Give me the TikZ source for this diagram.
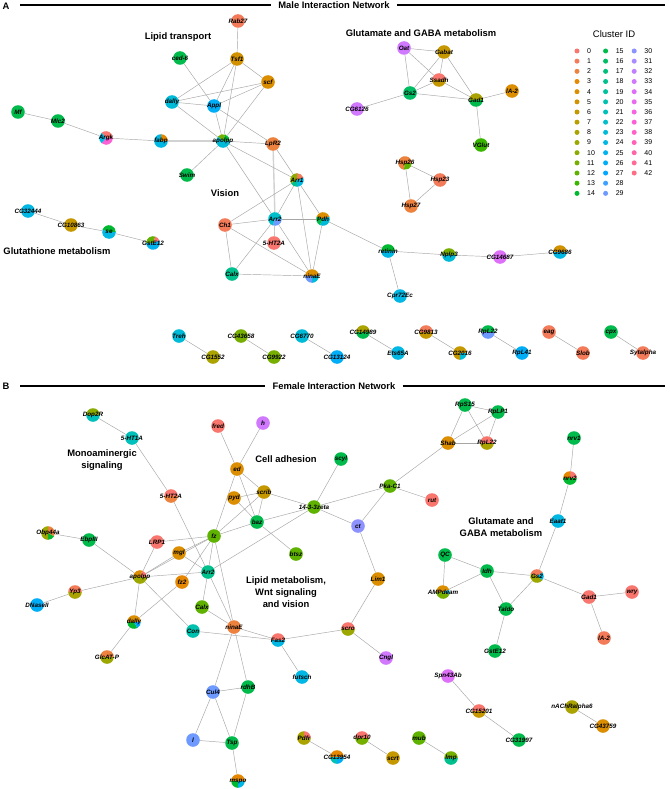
\documentclass[tikz,border=0pt]{standalone}
\usepackage{fontspec}
\setmainfont{Liberation Sans}
\pgfdeclarelayer{back}
\pgfdeclarelayer{bg}
\pgfsetlayers{back,bg,main}
\definecolor{c0}{HTML}{F8766D}\definecolor{c1}{HTML}{F37B59}\definecolor{c2}{HTML}{ED813E}
\definecolor{c3}{HTML}{E58700}\definecolor{c4}{HTML}{DB8E00}\definecolor{c5}{HTML}{D29200}
\definecolor{c6}{HTML}{C69800}\definecolor{c7}{HTML}{B99E00}\definecolor{c8}{HTML}{ABA300}
\definecolor{c9}{HTML}{9CA700}\definecolor{c10}{HTML}{8BAB00}\definecolor{c11}{HTML}{77AF00}
\definecolor{c12}{HTML}{5FB300}\definecolor{c13}{HTML}{3AB600}\definecolor{c14}{HTML}{00B930}
\definecolor{c15}{HTML}{00BB4C}\definecolor{c16}{HTML}{00BD64}\definecolor{c17}{HTML}{00BF7A}
\definecolor{c18}{HTML}{00C08D}\definecolor{c19}{HTML}{00C19D}\definecolor{c20}{HTML}{00C1AD}
\definecolor{c21}{HTML}{00C0BB}\definecolor{c22}{HTML}{00BECA}\definecolor{c23}{HTML}{00BBD8}
\definecolor{c24}{HTML}{00B8E3}\definecolor{c25}{HTML}{00B3EE}\definecolor{c26}{HTML}{00AEF8}
\definecolor{c27}{HTML}{00A8FF}\definecolor{c28}{HTML}{40A0FF}\definecolor{c29}{HTML}{6E99FF}
\definecolor{c30}{HTML}{8E92FF}\definecolor{c31}{HTML}{A98AFF}\definecolor{c32}{HTML}{BE80FF}
\definecolor{c33}{HTML}{D078FE}\definecolor{c34}{HTML}{DE6FF8}\definecolor{c35}{HTML}{EB68F0}
\definecolor{c36}{HTML}{F564E3}\definecolor{c37}{HTML}{FB61D5}\definecolor{c38}{HTML}{FF61C6}
\definecolor{c39}{HTML}{FF62B7}\definecolor{c40}{HTML}{FF65A7}\definecolor{c41}{HTML}{FF6A97}
\definecolor{c42}{HTML}{FD6F86}
\tikzset{
 gn/.style={circle, minimum size=13.6pt, inner sep=0pt},
 lbl/.style={inner sep=0pt, font=\fontsize{6.3}{6.3}\selectfont\bfseries\itshape},
 ttl/.style={font=\fontsize{9.4}{11.7}\selectfont\bfseries, align=center, inner sep=0pt},
 hdr/.style={font=\fontsize{9.4}{11}\selectfont\bfseries, inner sep=0pt},
 lnk/.style={draw=gray!70, line width=0.45pt},
 lnkt/.style={draw=gray!35, line width=1.4pt},
 rule/.style={draw=black, line width=1.1pt},
 lgdot/.style={circle, minimum size=5pt, inner sep=0pt},
 lgtxt/.style={anchor=west, inner sep=0pt, font=\fontsize{7}{7}\selectfont},
}
\def\nr{6.8}
\newcommand{\nd}[4]{\node[gn, fill=#4, label={[lbl]center:#3}] (#1) at (#2) {};}
\newcommand{\pn}[4]{\foreach \cc/\aa/\bb in {#4}{\fill[\cc] (#2) -- ++(\aa:\nr) arc[start angle=\aa, end angle=\bb, radius=\nr] -- cycle;}\node[gn, label={[lbl]center:#3}] (#1) at (#2) {};}
\begin{document}
\begin{tikzpicture}[x=1pt,y=-1pt]
\useasboundingbox (0,0) rectangle (669,789);
\begin{pgfonlayer}{back}
\fill[white] (0,0) rectangle (669,789);
\end{pgfonlayer}
% ---------------- headers
\node[hdr] (lA) at (6,6) {A};
\node[hdr] (hA) at (334,5) {Male Interaction Network};
\coordinate (hAl) at (20,5);\coordinate (hAr) at (665,5);
\draw[rule] (hAl) -- ([xshift=-7pt]hA.west);
\draw[rule] ([xshift=7pt]hA.east) -- (hAr);
\node[hdr] (lB) at (6,386) {B};
\node[hdr] (hB) at (334,386) {Female Interaction Network};
\coordinate (hBl) at (20,386);\coordinate (hBr) at (665,386);
\draw[rule] (hBl) -- ([xshift=-7pt]hB.west);
\draw[rule] ([xshift=7pt]hB.east) -- (hBr);
% ---------------- legend
\node[font=\fontsize{9.5}{10}\selectfont, inner sep=0pt] (lgT) at (614,34) {Cluster ID};
\foreach \i in {0,...,42}{
  \pgfmathtruncatemacro{\col}{floor(\i/15)}
  \pgfmathtruncatemacro{\row}{\i-15*\col}
  \node[lgdot, fill=c\i] (lg\i) at ({577+28.6*\col},{51+10.17*\row}) {};
  \node[lgtxt] (lgt\i) at ({587+28.6*\col},{51+10.17*\row}) {\i};
}
% ---------------- titles
\node[ttl] (tA1) at (178,37) {Lipid transport};
\node[ttl] (tA2) at (225,193) {Vision};
\node[ttl] (tA3) at (57,251) {Glutathione metabolism};
\node[ttl] (tA4) at (421,33) {Glutamate and GABA metabolism};
\node[ttl] (tB1) at (102,460) {Monoaminergic\\signaling};
\node[ttl] (tB2) at (286,459) {Cell adhesion};
\node[ttl] (tB3) at (286,592) {Lipid metabolism,\\Wnt signaling\\and vision};
\node[ttl] (tB4) at (501,527) {Glutamate and\\GABA metabolism};
% ---------------- panel A nodes
\nd{aMf}{18,112}{Mf}{c15}
\nd{aMlc}{58,121}{Mlc2}{c15}
\pn{aArgk}{106,138}{Argk}{c0/230/360, c37/0/130, c24/130/230}
\pn{aFabp}{161,141}{fabp}{c3/270/360, c24/0/270}
\nd{aCed}{180,58}{ced-6}{c15}
\nd{aDally}{172,102}{dally}{c23}
\nd{aAppl}{214,106}{Appl}{c26}
\pn{aApo}{223,141}{apolpp}{c11/220/290, c14/290/360, c23/0/220}
\nd{aSwim}{187,175}{Swim}{c15}
\nd{aRab}{238,21}{Rab27}{c1}
\nd{aTsf}{237,59}{Tsf1}{c5}
\nd{aScf}{268,82}{scf}{c4}
\nd{aLpR}{273,144}{LpR2}{c2}
\pn{aArra}{297,180}{Arr1}{c10/150/270, c1/270/340, c24/340/450, c18/90/150}
\pn{aArrb}{275,219}{Arr2}{c29/0/110, c22/110/360}
\nd{aCh}{225,225}{Ch1}{c1}
\nd{aHT}{274,243}{5-HT2A}{c0}
\pn{aPdh}{323,219}{Pdh}{c4/200/340, c23/340/480, c15/120/200}
\nd{aCalx}{232,274}{Calx}{c18}
\pn{aNina}{312,276}{ninaE}{c4/180/360, c23/0/90, c29/90/180}
\nd{aCGa}{28,211}{CG32444}{c24}
\nd{aCGb}{71,225}{CG10863}{c6}
\pn{aSe}{109,232}{se}{c14/200/360, c24/0/200}
\pn{aGst}{153,243}{GstE12}{c12/180/290, c0/290/340, c25/340/540}
\nd{aOat}{404,48}{Oat}{c33}
\nd{aGabat}{444,52}{Gabat}{c6}
\pn{aSsadh}{439,80}{Ssadh}{c0/180/360, c6/0/180}
\nd{aGs}{410,93}{Gs2}{c16}
\pn{aGad}{476,100}{Gad1}{c8/180/360, c15/0/180}
\nd{aIA}{512,91}{lA-2}{c4}
\nd{aCG6126}{357,109}{CG6126}{c33}
\nd{aVGlut}{481,145}{VGlut}{c13}
\pn{aHspa}{405,163}{Hsp26}{c2/100/360, c12/0/100}
\nd{aHspb}{440,180}{Hsp23}{c1}
\nd{aHspc}{411,206}{Hsp27}{c2}
\pn{aRet}{388,251}{retinin}{c14/180/360, c24/0/180}
\pn{aNplp}{449,255}{Nplp3}{c11/180/360, c23/0/180}
\nd{aCG14687}{500,257}{CG14687}{c34}
\pn{aCG9686}{560,252}{CG9686}{c5/180/360, c24/0/180}
\nd{aCpr}{400,296}{Cpr72Ec}{c24}
\nd{aTreh}{179,336}{Treh}{c23}
\nd{aCG1552}{213,357}{CG1552}{c8}
\nd{aCG43658}{241,336}{CG43658}{c11}
\nd{aCG9922}{274,357}{CG9922}{c11}
\nd{aCG6770}{302,336}{CG6770}{c23}
\nd{aCG13124}{337,357}{CG13124}{c26}
\pn{aCG14989}{363,332}{CG14989}{c8/180/360, c15/0/180}
\nd{aEts}{398,353}{Ets65A}{c24}
\pn{aCG9813}{426,332}{CG9813}{c1/180/360, c6/0/180}
\pn{aCG2016}{460,353}{CG2016}{c6/90/360, c23/0/90}
\pn{aRpL22}{488,332}{RpL22}{c15/180/360, c29/0/180}
\nd{aRpL41}{522,353}{RpL41}{c26}
\nd{aEag}{549,332}{eag}{c1}
\nd{aSlob}{583,353}{Slob}{c1}
\nd{aCpx}{611,332}{cpx}{c15}
\nd{aSyt}{643,353}{Sytalpha}{c1}
% ---------------- panel B nodes
\pn{bDop}{93,415}{Dop2R}{c10/180/360, c21/0/180}
\nd{bHTa}{132,438}{5-HT1A}{c21}
\pn{bHTb}{171,496}{5-HT2A}{c0/180/360, c2/0/180}
\nd{bFred}{218,426}{fred}{c0}
\nd{bH}{263,423}{h}{c33}
\nd{bEd}{237,469}{ed}{c4}
\nd{bScrib}{264,492}{scrib}{c6}
\nd{bPyd}{234,498}{pyd}{c4}
\nd{bScyl}{341,459}{scyl}{c15}
\nd{bZeta}{314,507}{14-3-3zeta}{c12}
\nd{bPka}{390,486}{Pka-C1}{c12}
\nd{bShab}{448,443}{Shab}{c4}
\nd{bRut}{432,500}{rut}{c0}
\nd{bBaz}{257,522}{baz}{c15}
\nd{bCt}{358,526}{ct}{c30}
\nd{bFz}{214,536}{fz}{c12}
\nd{bBtsz}{296,554}{btsz}{c12}
\pn{bObp}{48,533}{Obp44a}{c2/270/390, c14/30/90, c9/90/270}
\nd{bEbp}{89,540}{EbpIII}{c15}
\nd{bLRP}{157,542}{LRP1}{c0}
\nd{bMgl}{179,553}{mgl}{c4}
\nd{bArr}{208,572}{Arr2}{c18}
\pn{bApo}{140,577}{apolpp}{c4/180/290, c0/290/360, c9/0/180}
\nd{bFz2}{182,582}{fz2}{c3}
\pn{bYp}{75,592}{Yp3}{c1/180/360, c8/0/180}
\nd{bDNase}{37,605}{DNaseII}{c26}
\pn{bDally}{134,622}{dally}{c4/180/360, c14/60/180, c27/0/60}
\nd{bCalx}{202,607}{Calx}{c12}
\nd{bCon}{193,631}{Con}{c20}
\nd{bNina}{234,627}{ninaE}{c2}
\pn{bFas}{278,640}{Fas2}{c0/180/360, c24/0/180}
\nd{bFutsch}{302,677}{futsch}{c24}
\pn{bGlc}{107,657}{GlcAT-P}{c2/180/360, c9/0/180}
\nd{bCul}{213,692}{Cul4}{c29}
\nd{bRdh}{248,687}{rdhB}{c15}
\nd{bL}{193,740}{l}{c29}
\nd{bTsp}{232,743}{Tsp}{c15}
\pn{bMspo}{238,781}{mspo}{c3/180/360, c14/90/180, c24/0/90}
\nd{bLim}{378,579}{Lim1}{c4}
\pn{bScro}{348,629}{scro}{c0/180/360, c9/0/180}
\nd{bCngl}{386,658}{Cngl}{c33}
\nd{bRpS}{465,405}{RpS15}{c15}
\nd{bRpLP}{498,412}{RpLP1}{c15}
\pn{bRpL}{487,443}{RpL22}{c0/180/360, c8/0/180}
\nd{bNrva}{574,438}{nrv1}{c15}
\pn{bNrvb}{570,478}{nrv2}{c0/270/360, c3/180/270, c14/0/180}
\nd{bEaat}{558,521}{Eaat1}{c24}
\nd{bQC}{445,555}{QC}{c15}
\nd{bIdh}{487,571}{Idh}{c15}
\pn{bGs}{537,576}{Gs2}{c1/200/330, c24/330/400, c9/40/200}
\pn{bAMP}{443,592}{AMPdeam}{c4/180/340, c24/340/380, c11/20/180}
\nd{bGad}{589,597}{Gad1}{c0}
\nd{bWry}{632,592}{wry}{c0}
\nd{bTaldo}{506,609}{Taldo}{c15}
\nd{bIA}{604,638}{lA-2}{c1}
\nd{bGst}{495,651}{GstE12}{c15}
\nd{bSpn}{448,676}{Spn43Ab}{c34}
\pn{bCG15201}{479,711}{CG15201}{c0/180/360, c6/0/180}
\nd{bCG31997}{519,740}{CG31997}{c15}
\nd{bNACh}{572,707}{nAChRalpha6}{c8}
\nd{bCG43759}{603,726}{CG43759}{c4}
\pn{bPdfr}{304,738}{Pdfr}{c0/270/360, c8/0/270}
\pn{bCG13954}{337,757}{CG13954}{c3/180/360, c21/90/180, c26/0/90}
\pn{bDpr}{362,738}{dpr10}{c0/180/360, c11/0/180}
\nd{bScrt}{393,758}{scrt}{c6}
\nd{bMub}{419,738}{mub}{c12}
\pn{bLmp}{451,758}{lmp}{c11/180/360, c18/0/180}
% ---------------- edges
\begin{pgfonlayer}{bg}
\draw[lnkt] (aFabp) -- (aApo);
\draw[lnkt] (aLpR) -- (aArrb);
\foreach \u/\v in {aMf/aMlc, aMlc/aArgk, aArgk/aFabp, aRab/aTsf, aTsf/aDally, aTsf/aAppl, aTsf/aScf, aTsf/aApo,
 aCed/aAppl, aDally/aAppl, aDally/aScf, aDally/aApo, aAppl/aScf, aAppl/aApo, aAppl/aLpR, aScf/aApo,
 aApo/aSwim, aApo/aLpR, aApo/aArra, aApo/aArrb, aLpR/aArra, aArra/aCh, aArra/aArrb, aArra/aPdh, aArra/aNina,
 aArrb/aCh, aArrb/aPdh, aArrb/aCalx, aArrb/aNina, aArrb/aHT, aCh/aCalx, aCh/aNina, aCalx/aNina, aPdh/aNina,
 aPdh/aRet, aRet/aNplp, aRet/aCpr, aNplp/aCG14687, aCG14687/aCG9686,
 aCGa/aCGb, aCGb/aSe, aSe/aGst,
 aOat/aGabat, aOat/aSsadh, aOat/aGs, aGabat/aSsadh, aGabat/aGs, aGabat/aGad, aSsadh/aGs, aSsadh/aGad,
 aGs/aGad, aGs/aCG6126, aGad/aIA, aGad/aVGlut, aHspa/aHspb, aHspa/aHspc, aHspb/aHspc,
 aTreh/aCG1552, aCG43658/aCG9922, aCG6770/aCG13124, aCG14989/aEts, aCG9813/aCG2016, aRpL22/aRpL41,
 aEag/aSlob, aCpx/aSyt}
 {\draw[lnk] (\u) -- (\v);}
\foreach \u/\v in {bDop/bHTa, bHTa/bHTb, bHTb/bArr, bFred/bEd, bH/bEd, bEd/bScrib, bEd/bBaz, bEd/bFz,
 bPyd/bScrib, bPyd/bBaz, bScrib/bBaz, bScrib/bFz, bScrib/bZeta, bBaz/bFz, bBaz/bZeta, bBaz/bBtsz,
 bZeta/bScyl, bZeta/bPka, bZeta/bCt, bZeta/bArr, bPka/bShab, bPka/bRut, bPka/bCt, bCt/bLim, bLim/bScro,
 bScro/bCngl, bScro/bFas, bObp/bEbp, bEbp/bApo, bLRP/bFz, bLRP/bApo, bMgl/bApo, bMgl/bFz, bMgl/bArr,
 bApo/bFz, bApo/bArr, bApo/bYp, bApo/bDally, bApo/bCon, bYp/bDNase, bDally/bGlc, bDally/bFz2, bFz2/bFz,
 bFz/bArr, bFz/bNina, bArr/bCalx, bArr/bNina, bCalx/bNina, bCon/bFas, bNina/bFas, bNina/bCul, bNina/bRdh,
 bCul/bRdh, bCul/bL, bCul/bTsp, bRdh/bTsp, bL/bTsp, bTsp/bMspo, bFas/bFutsch,
 bRpS/bRpLP, bRpS/bShab, bRpS/bRpL, bRpLP/bShab, bRpLP/bRpL, bShab/bRpL,
 bNrva/bNrvb, bNrvb/bEaat, bEaat/bGs, bGs/bIdh, bGs/bTaldo, bGs/bGad, bGad/bWry, bGad/bIA,
 bIdh/bQC, bIdh/bAMP, bQC/bAMP, bIdh/bTaldo, bTaldo/bGst, bSpn/bCG15201, bCG15201/bCG31997,
 bNACh/bCG43759, bPdfr/bCG13954, bDpr/bScrt, bMub/bLmp}
 {\draw[lnk] (\u) -- (\v);}
\end{pgfonlayer}
\end{tikzpicture}
\end{document}
